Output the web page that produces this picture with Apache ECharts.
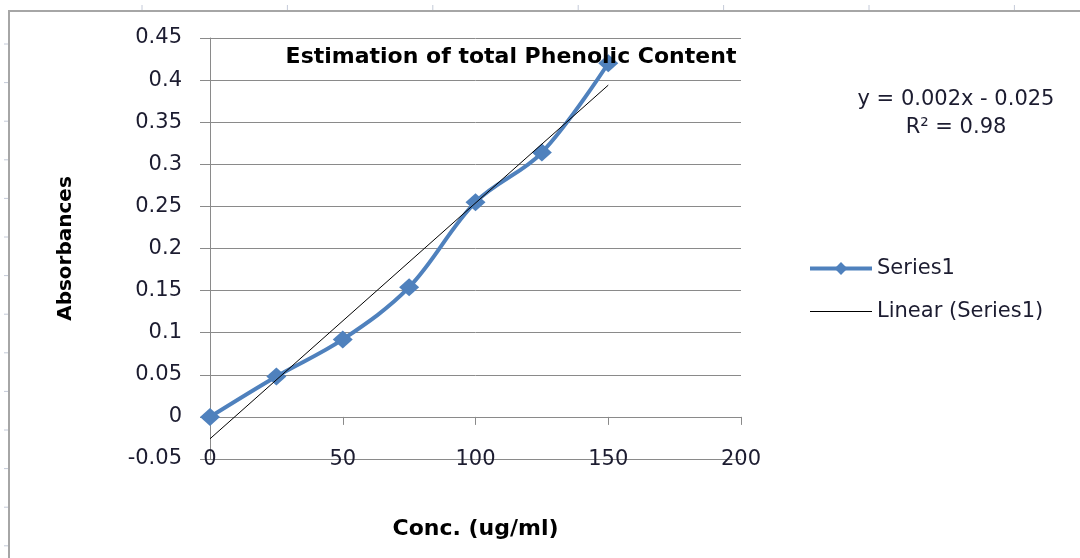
<!DOCTYPE html>
<html>
<head>
<meta charset="utf-8">
<title>Estimation of total Phenolic Content</title>
<script src="https://cdn.jsdelivr.net/npm/echarts@6/dist/echarts.min.js"></script>
<style>
  html, body { margin: 0; padding: 0; background: #fff; }
  #chart { width: 1080px; height: 558px; }
</style>
</head>
<body>
<div id="chart"></div>
<script>
// 数据
const conc = [0, 25, 50, 75, 100, 125, 150];
const absorbance = [0, 0.048, 0.092, 0.154, 0.255, 0.314, 0.42];
// trend line ends
const trendX = [0, 150];
const trendY = [-0.026, 0.394];
const equationLines = ['y = 0.002x - 0.025', 'R\u00B2 = 0.98'];

const font = 'DejaVu Sans';
const textColor = '#1c1c30';
const gridColor = '#8a8a8a';

// decorative frame and ruler marks from the sheet
const deco = [{
  type: 'rect',
  shape: { x: 9, y: 11, width: 1100, height: 600 },
  style: { fill: 'none', stroke: '#a6a6a6', lineWidth: 2 }
}];
for (let k = 0; k < 7; k++) {
  const x = 142 + k * 145.4;
  deco.push({ type: 'line', shape: { x1: x, y1: 5, x2: x, y2: 10 }, style: { stroke: '#c4cad8', lineWidth: 1 } });
}
for (let k = 0; k < 14; k++) {
  const y = 44 + k * 38.6;
  deco.push({ type: 'line', shape: { x1: 4, y1: y, x2: 8, y2: y }, style: { stroke: '#c4cad8', lineWidth: 1 } });
}
// equation label of the trend line
equationLines.forEach((t, i) => {
  deco.push({
    type: 'text', x: 956, y: 89 + i * 28,
    style: { text: t, font: '21px "DejaVu Sans"', fill: textColor, align: 'center', verticalAlign: 'top' }
  });
});

const chart = echarts.init(document.getElementById('chart'));
chart.setOption({
  animation: false,
  title: {
    text: 'Estimation of total Phenolic Content',
    left: 506, top: 41, textAlign: 'center',
    textStyle: { fontFamily: font, fontWeight: 'bold', fontSize: 22, color: '#000' }
  },
  grid: { left: 210, right: 339, top: 38, bottom: 99, outerBoundsMode: 'none' },
  legend: {
    orient: 'vertical', left: 803, top: 253, itemGap: 22,
    itemWidth: 62, itemHeight: 16,
    textStyle: { fontFamily: font, fontSize: 21, color: textColor },
    data: [
      { name: 'Series1', lineStyle: { width: 4 } },
      { name: 'Linear (Series1)', itemStyle: { opacity: 0 }, lineStyle: { width: 1 } }
    ]
  },
  xAxis: {
    type: 'value', min: 0, max: 200, interval: 50,
    name: 'Conc. (ug/ml)', nameLocation: 'middle', nameGap: 59,
    nameTextStyle: { fontFamily: font, fontWeight: 'bold', fontSize: 22, color: '#000' },
    axisLine: { onZero: true, lineStyle: { color: gridColor } },
    axisTick: { show: true, length: 8, lineStyle: { color: gridColor } },
    axisLabel: { margin: -10, fontFamily: font, fontSize: 21, color: textColor },
    splitLine: { show: false }
  },
  yAxis: {
    type: 'value', min: -0.05, max: 0.45, interval: 0.05,
    name: 'Absorbances', nameLocation: 'middle', nameGap: 134,
    nameTextStyle: { fontFamily: font, fontWeight: 'bold', fontSize: 20, color: '#000' },
    axisLine: { show: true, lineStyle: { color: gridColor } },
    axisTick: { show: true, length: 10, lineStyle: { color: gridColor } },
    axisLabel: {
      margin: 28, fontFamily: font, fontSize: 21, color: textColor,
      formatter: v => String(Math.round(v * 100) / 100)
    },
    splitLine: { show: true, lineStyle: { color: gridColor, width: 1 } }
  },
  graphic: deco,
  series: [
    {
      name: 'Series1', type: 'line', smooth: 0.35,
      data: conc.map((x, i) => [x, absorbance[i]]),
      symbol: 'diamond', symbolSize: [20, 18],
      itemStyle: { color: '#4f81bd' },
      lineStyle: { color: '#4f81bd', width: 4 },
      z: 3
    },
    {
      name: 'Linear (Series1)', type: 'line',
      data: trendX.map((x, i) => [x, trendY[i]]),
      symbol: 'none',
      itemStyle: { color: '#000' },
      lineStyle: { color: '#000', width: 1 },
      z: 4
    }
  ]
});
</script>
</body>
</html>
